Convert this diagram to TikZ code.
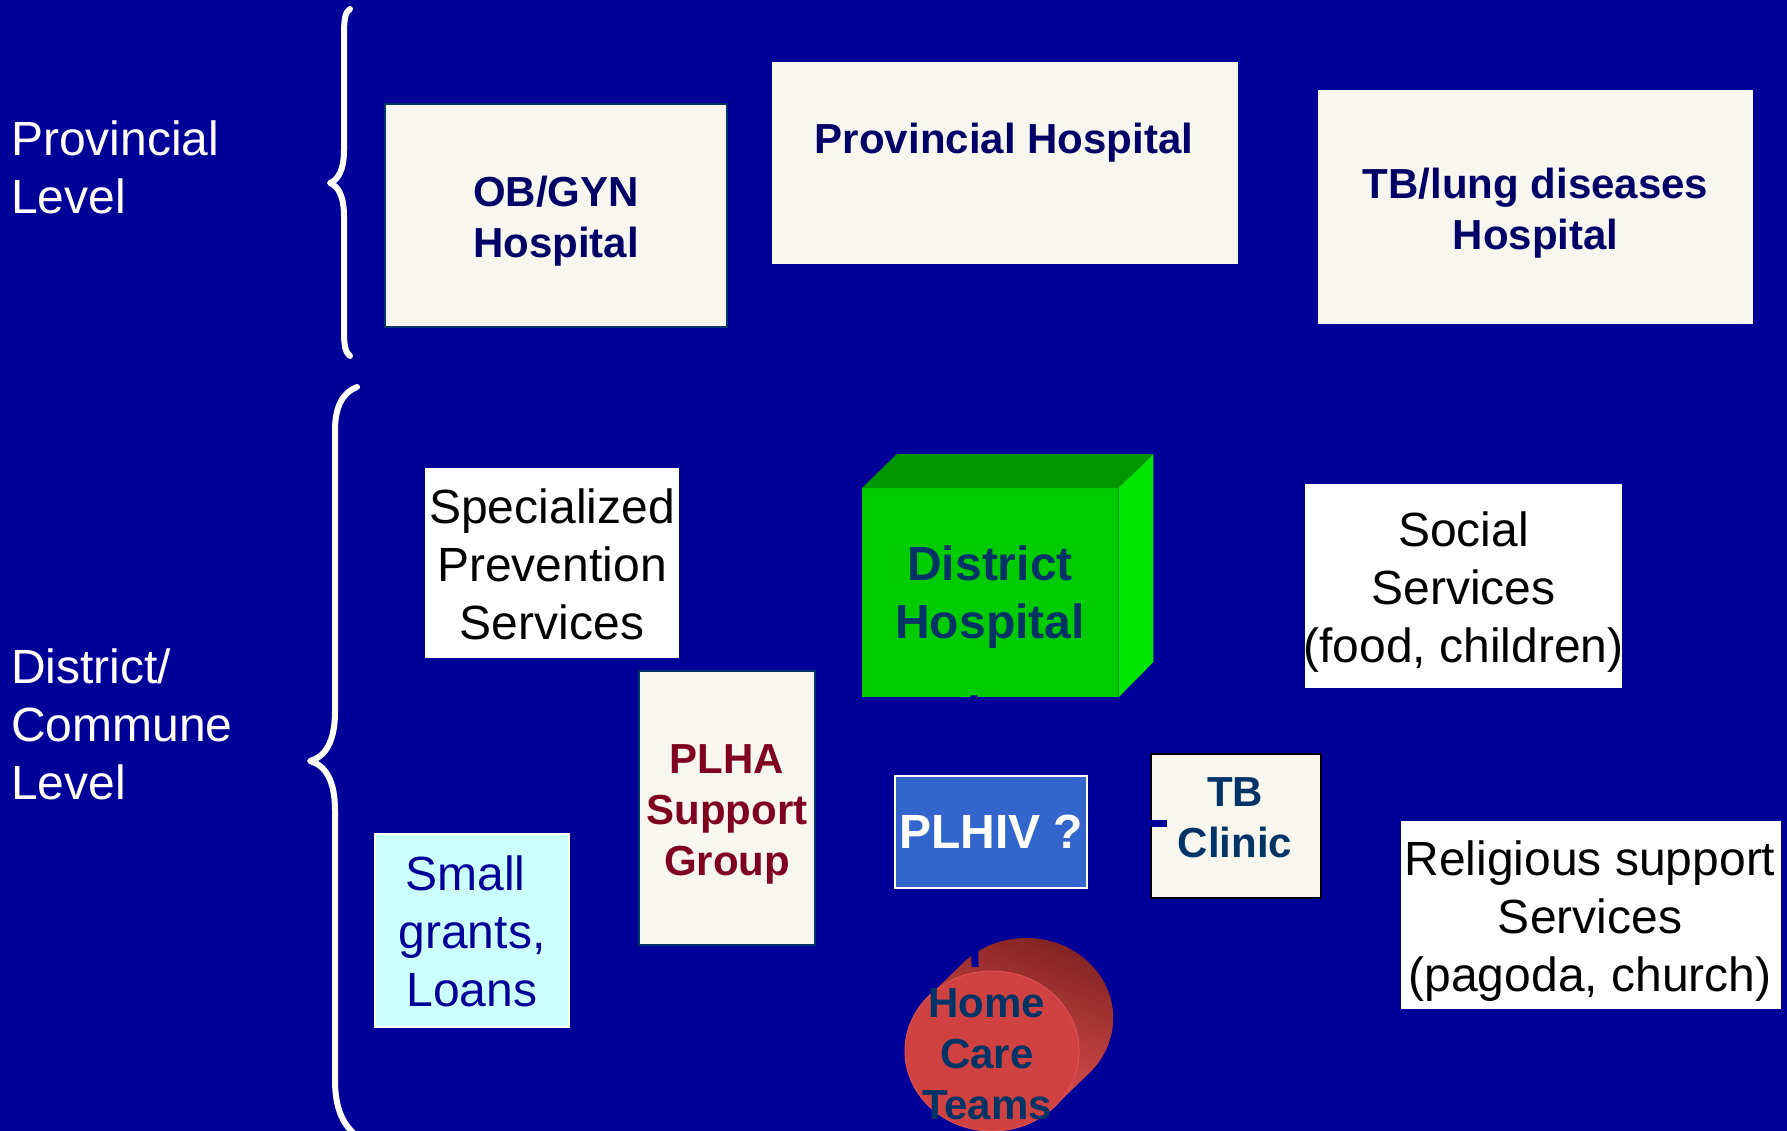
\documentclass[tikz,border=0pt]{standalone}
\usepackage{fontspec}
\setmainfont{Liberation Sans}
\usetikzlibrary{shapes.geometric}
\definecolor{bg}{RGB}{0,0,153}
\definecolor{cream}{RGB}{247,247,240}
\definecolor{navytxt}{RGB}{0,0,102}
\definecolor{darktxt}{RGB}{0,51,102}
\definecolor{maroontxt}{RGB}{128,0,32}
\definecolor{plhivfill}{RGB}{51,102,204}
\definecolor{cyanbox}{RGB}{204,255,255}
\definecolor{gfront}{RGB}{0,204,0}
\definecolor{gtop}{RGB}{0,150,0}
\definecolor{gside}{RGB}{0,230,0}
\definecolor{redfront}{RGB}{208,66,66}
\definecolor{reddark}{RGB}{125,32,32}
\definecolor{redlight}{RGB}{232,84,84}
\tikzset{
  reg/.style={font=\fontsize{48}{58}\selectfont},
  boldA/.style={font=\fontsize{42}{51}\selectfont\bfseries},
  boldB/.style={font=\fontsize{48}{58}\selectfont\bfseries},
  boxnode/.style={rectangle, inner sep=0pt, align=center},
  txt/.style={align=center, inner sep=0pt},
  brace/.style={white, line width=6pt, line cap=round, line join=round},
  stub/.style={bg, line width=7pt},
}
\begin{document}
\begin{tikzpicture}[x=1pt,y=-1pt]
\useasboundingbox (0,0) rectangle (1787,1131);
\fill[bg] (0,0) rectangle (1787,1131);
\clip (0,0) rectangle (1787,1131);

% level labels
\node[reg, white, align=left, anchor=west, inner sep=0pt] (prov) at (11,167) {Provincial\\Level};
\node[reg, white, align=left, anchor=west, inner sep=0pt] (dist) at (11,724) {District/\\Commune\\Level};

% braces
\draw[brace] (350,9) .. controls (345,12) and (344,20) .. (344,35) -- (344,150)
  .. controls (344,170) and (338,180) .. (330,183)
  .. controls (338,186) and (344,196) .. (344,216) -- (344,330)
  .. controls (344,345) and (345,352) .. (350,356);
\draw[brace] (357,387) .. controls (344,392) and (335,405) .. (335,430) -- (335,712)
  .. controls (335,742) and (325,757) .. (310,761)
  .. controls (325,765) and (335,780) .. (335,810) -- (335,1080)
  .. controls (335,1110) and (344,1126) .. (357,1136);

% provincial boxes
\node[boxnode, fill=cream, draw=darktxt, line width=1.5pt, minimum width=342, minimum height=223] (obgyn) at (556,215.5) {};
\node[txt, boldA, text=navytxt] (obgyntxt) at (556,221) {OB/GYN\\Hospital};
\node[boxnode, fill=cream, minimum width=466, minimum height=202] (provh) at (1005,163) {};
\node[txt, boldA, text=navytxt] (provhtxt) at (1004,143) {Provincial Hospital};
\node[boxnode, fill=cream, minimum width=435, minimum height=234] (tblung) at (1535.5,207) {};
\node[txt, boldA, text=navytxt] (tblungtxt) at (1535.5,213) {TB/lung diseases\\Hospital};

% district boxes
\node[boxnode, fill=white, minimum width=254, minimum height=190] (spec) at (552,563) {};
\node[txt, reg, text=black] (spectxt) at (552,564.5) {Specialized\\Prevention\\Services};
\node[boxnode, fill=white, minimum width=317, minimum height=204] (social) at (1463.5,586) {};
\node[txt, reg, text=black] (socialtxt) at (1463.5,592) {Social\\Services\\(food, children)};
\node[boxnode, fill=cream, draw=darktxt, line width=1.5pt, minimum width=176, minimum height=274] (plha) at (727,808) {};
\node[txt, boldA, text=maroontxt] (plhatxt) at (727,814) {PLHA\\Support\\Group};
\node[boxnode, fill=cyanbox, draw=white, line width=2.5pt, minimum width=194, minimum height=193] (grants) at (472,930.5) {};
\node[txt, reg, text=bg] (grantstxt) at (472,931.5) {Small\kern13.3pt\\grants,\\Loans};
\node[boxnode, fill=white, minimum width=380, minimum height=188] (relig) at (1591,915) {};
\node[txt, reg, text=black] (religtxt) at (1590,921) {Religious support\\Services\\(pagoda, church)};
\node[boxnode, fill=cream, draw=black, line width=2.5pt, minimum width=170, minimum height=144] (tbc) at (1236,826) {};

% district hospital cube
\node[boxnode, fill=gfront, minimum width=256, minimum height=209, anchor=north west] (dh) at (862,488) {};
\fill[gtop] (dh.north west) -- ++(35,-34) -- ++(256,0) -- (dh.north east) -- cycle;
\fill[gside] (dh.north east) -- ++(35,-34) -- ++(0,208) -- (dh.south east) -- cycle;

% home care cylinder
\shade[top color=reddark, bottom color=redlight, shading angle=-20]
  (963,963) arc[start angle=223.4, end angle=403.4, x radius=87, y radius=80]
  -- (1055,1106) -- (929,996) -- cycle;
\node[ellipse, fill=redfront, draw={rgb,255:red,222;green,80;blue,80}, line width=1pt, minimum width=174, minimum height=160, inner sep=0pt] (hc) at (992,1051) {};

% connector fragments (same colour as the background)
\coordinate (hctop) at (975,967);
\draw[stub] ([xshift=112pt,yshift=2pt]dh.south west) -- (hctop);

% PLHIV box
\node[boxnode, fill=plhivfill, draw=white, line width=2.5pt, minimum width=192, minimum height=112, boldB, text=white] (plhiv) at (991,832) {PLHIV ?};
\coordinate (tbin) at (1167,823);
\draw[stub] ([xshift=3pt,yshift=9pt]plhiv.east) -- (tbin);

% texts on top
\node[txt, boldB, text=darktxt] (dhtxt) at (990,597) {District\\Hospital};
\node[txt, boldA, text=darktxt] (tbctxt) at (1235,818) {TB\\Clinic};
\node[txt, boldA, text=darktxt] (hctxt) at (987,1054) {Home\\Care\\Teams};
\end{tikzpicture}
\end{document}
